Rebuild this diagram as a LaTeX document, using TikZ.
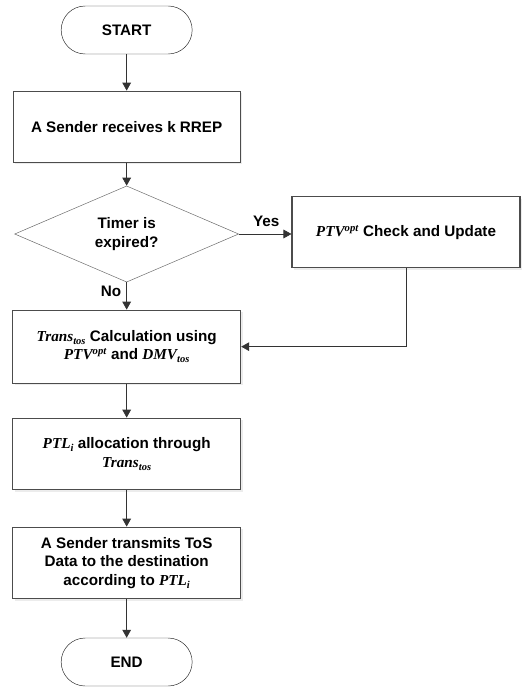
\documentclass[tikz,border=0pt]{standalone}
\usepackage{amsmath,amssymb}
\usepackage{fontspec}
\setmainfont{Liberation Sans}
\newfontfamily\symfont{Liberation Serif}
\usetikzlibrary{shapes.geometric,arrows.meta,shadows}

% symbols set like the bold italic formulas of the figure
\newcommand{\msup}[2]{{\symfont\bfseries\itshape #1\textsuperscript{#2}}}
\newcommand{\msub}[2]{{\symfont\bfseries\itshape #1\raisebox{-0.45ex}{\fontsize{9}{9}\selectfont #2}}}

\tikzset{
    flowtext/.style={font=\fontsize{13}{15.8}\selectfont\bfseries, align=center},
    terminal/.style={flowtext, draw=black!85, thin, rounded corners=0.72cm,
        minimum width=3.93cm, minimum height=1.44cm, fill=white},
    process/.style={flowtext, draw=black!70, line width=0.9pt, fill=white,
        minimum width=6.84cm, minimum height=2.15cm,
        drop shadow={shadow xshift=0.06cm, shadow yshift=-0.06cm, opacity=0.15}},
    decision/.style={flowtext, diamond, draw=black!60, thin, fill=white,
        minimum width=6.72cm, minimum height=2.58cm, inner sep=0pt},
    flowline/.style={draw=black!80, line width=0.7pt,
        -{Triangle[length=0.24cm, width=0.26cm]}}
}

\begin{document}
\begin{tikzpicture}
    \useasboundingbox (0,0) rectangle (15.75,-20.64);

    % Main column
    \node[terminal] (start) at (3.8,-0.9) {START};
    \node[process, minimum width=6.81cm, minimum height=2.13cm] (recv) at (3.8,-3.8) {A Sender receives k RREP};
    \node[decision] (timer) at (3.8,-7.02) {Timer is\\expired?};
    \node[process, minimum height=2.19cm] (calc) at (3.8,-10.4) {\msub{Trans}{tos} Calculation using\\\msup{PTV}{opt} and \msub{DMV}{tos}};
    \node[process] (alloc) at (3.8,-13.62) {\msub{PTL}{i} allocation through\\\msub{Trans}{tos}};
    \node[process] (send) at (3.8,-16.89) {A Sender transmits ToS\\Data to the destination\\according to \msub{PTL}{i}};
    \node[terminal] (stop) at (3.8,-19.86) {END};

    % Side branch
    \node[process, minimum height=2.13cm] (update) at (12.18,-6.97) {\msup{PTV}{opt} Check and Update};

    % Connectors
    \draw[flowline] (start) -- (recv);
    \draw[flowline] (recv) -- (timer);
    \draw[flowline] (timer.east) -- node[flowtext, above, pos=0.52, yshift=3pt] {Yes} (timer.east -| update.west);
    \draw[flowline] (timer.south) -- node[flowtext, left, pos=0.33, xshift=-1pt] {No} (calc.north);
    \draw[flowline] (update.south) |- (calc.east);
    \draw[flowline] (calc) -- (alloc);
    \draw[flowline] (alloc) -- (send);
    \draw[flowline] (send) -- (stop);
\end{tikzpicture}
\end{document}
